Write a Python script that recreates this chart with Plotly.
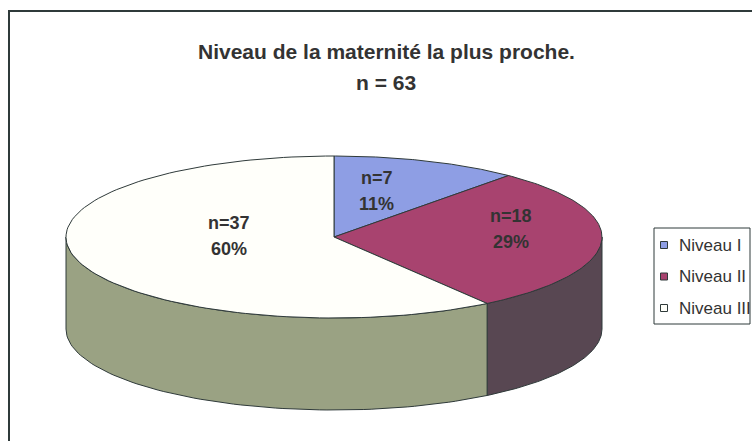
import numpy as np
import plotly.graph_objects as go

# ---- data ----
categories = ["Niveau I", "Niveau II", "Niveau III"]
counts = [7, 18, 37]
total_n = 63
title_line1 = "Niveau de la maternité la plus proche."
title_line2 = f"n = {total_n}"

# ---- style / layout ----
W, H = 752, 441
cx, cy, rx, ry, depth = 334, 237, 268, 81, 92
top_colors = ["#8e9ee4", "#a8436f", "#fffffa"]
side_colors = ["#5f6aa0", "#584752", "#9aa283"]
edge = "#2f3a3a"
txt = "#333333"
label_r = [0.46, 0.66, 0.41]
label_dy = -11
FONT = "Liberation Sans, Arial, sans-serif"
# legend box geometry (pixels)
leg_x0, leg_y0, leg_x1, leg_y1 = 654, 228, 750, 324
leg_row0, leg_step, leg_sq = 245, 31.5, 7
leg_sq_x, leg_txt_x = 664, 677

values = np.array(counts, dtype=float)
fracs = values / values.sum()
angles = 360 * fracs
starts = 90 - np.concatenate([[0], np.cumsum(angles)[:-1]])
ends = starts - angles


def pt(theta_deg, dz=0.0, scale=1.0):
    t = np.radians(theta_deg)
    return cx + rx * scale * np.cos(t), cy - ry * scale * np.sin(t) + dz


fig = go.Figure()

# side walls (visible front half: angles between -180 and 0)
for i in range(len(values)):
    a0, a1 = ends[i], starts[i]
    lo, hi = max(a0, -180), min(a1, 0)
    if hi <= lo:
        continue
    th = np.linspace(lo, hi, 80)
    xs_top, ys_top = pt(th)
    xs_bot, ys_bot = pt(th[::-1], depth)
    xs = np.concatenate([xs_top, xs_bot, xs_top[:1]])
    ys = np.concatenate([ys_top, ys_bot, ys_top[:1]])
    fig.add_trace(go.Scatter(x=xs, y=ys, mode="lines", fill="toself",
                             fillcolor=side_colors[i],
                             line=dict(color=edge, width=1),
                             showlegend=False, hoverinfo="skip"))

# top faces
for i in range(len(values)):
    th = np.linspace(starts[i], ends[i], 120)
    xa, ya = pt(th)
    xs = np.concatenate([[cx], xa, [cx]])
    ys = np.concatenate([[cy], ya, [cy]])
    fig.add_trace(go.Scatter(x=xs, y=ys, mode="lines", fill="toself",
                             fillcolor=top_colors[i],
                             line=dict(color=edge, width=1),
                             name=categories[i], showlegend=False,
                             hoverinfo="skip"))

# slice labels
for i in range(len(values)):
    mid = (starts[i] + ends[i]) / 2
    lx, ly = pt(mid, label_dy, label_r[i])
    pct = f"{round(100 * fracs[i]):d}%"
    for dy, s in [(-13, f"n={counts[i]}"), (13, pct)]:
        fig.add_annotation(x=lx, y=ly + dy, text=f"<b>{s}</b>", showarrow=False,
                           font=dict(family=FONT, size=18, color=txt),
                           xanchor="center", yanchor="middle")

# title (two lines)
fig.add_annotation(x=386, y=51, text=f"<b>{title_line1}</b>", showarrow=False,
                   font=dict(family=FONT, size=21, color=txt),
                   xanchor="center", yanchor="middle")
fig.add_annotation(x=386, y=82, text=f"<b>{title_line2}</b>", showarrow=False,
                   font=dict(family=FONT, size=21, color=txt),
                   xanchor="center", yanchor="middle")

# legend (box, swatches, names)
fig.add_shape(type="rect", x0=leg_x0, y0=leg_y0, x1=leg_x1, y1=leg_y1,
              line=dict(color=edge, width=1), fillcolor="white")
for i, name in enumerate(categories):
    ry_ = leg_row0 + i * leg_step
    h = leg_sq / 2
    fig.add_shape(type="rect", x0=leg_sq_x - h, y0=ry_ - h, x1=leg_sq_x + h,
                  y1=ry_ + h, line=dict(color=edge, width=1),
                  fillcolor=top_colors[i])
    fig.add_annotation(x=leg_txt_x, y=ry_, text=name, showarrow=False,
                       font=dict(family=FONT, size=17, color=txt),
                       xanchor="left", yanchor="middle")

# chart border
fig.add_shape(type="rect", x0=9, y0=11, x1=W + 10, y1=H + 10,
              line=dict(color=edge, width=2), layer="below")

fig.update_layout(
    width=W, height=H,
    margin=dict(l=0, r=0, t=0, b=0, autoexpand=False),
    paper_bgcolor="white", plot_bgcolor="white",
    xaxis=dict(range=[0, W], visible=False, fixedrange=True),
    yaxis=dict(range=[H, 0], visible=False, fixedrange=True),
    showlegend=False,
)

fig.write_html(
    "out.html",
    config={"responsive": False, "displayModeBar": False},
    post_script="document.body.style.margin='0px';document.body.style.overflow='hidden';",
)
